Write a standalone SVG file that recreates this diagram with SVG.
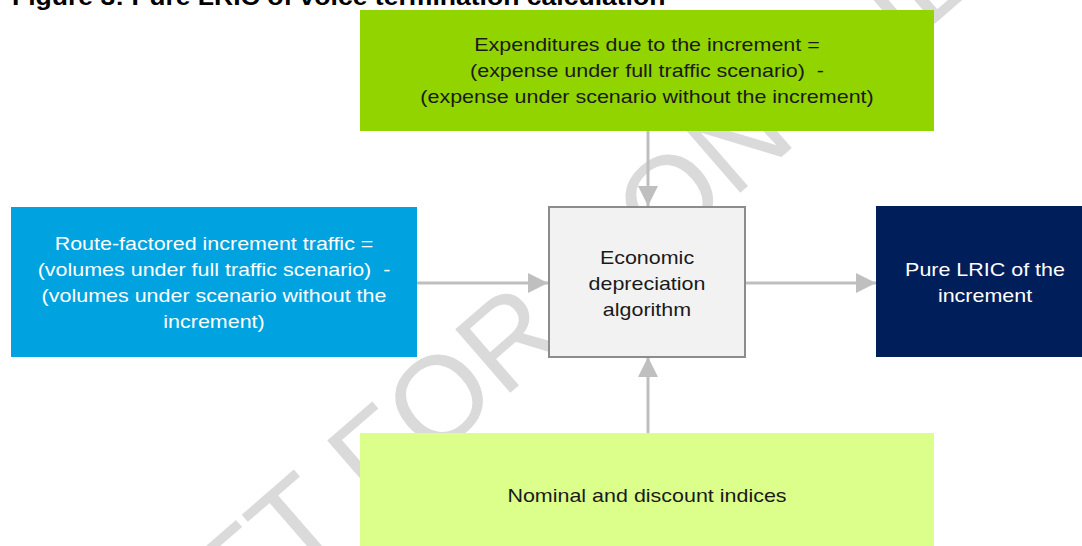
<svg xmlns="http://www.w3.org/2000/svg" width="1082" height="546" viewBox="0 0 1082 546">
<defs>
<style>
.t{font-family:"Liberation Sans",Arial,sans-serif;font-size:19px;text-anchor:middle;white-space:pre}
.dark{fill:#1a1a1a}
.light{fill:#ffffff}
.conn{stroke:#bfbfbf;stroke-width:3;fill:none}
.wm{font-family:"Liberation Sans",Arial,sans-serif;font-size:122px;fill:#dadada}
</style>
<marker id="ah" viewBox="0 0 20 20" refX="20" refY="10" markerWidth="20" markerHeight="20" markerUnits="userSpaceOnUse" orient="auto">
<path d="M0,0 L20,10 L0,20 z" fill="#bfbfbf"/>
</marker>
</defs>
<rect width="1082" height="546" fill="#ffffff"/>
<text transform="translate(12,5) scale(1.155,1)" x="0" y="0" font-family="Liberation Sans,Arial,sans-serif" font-weight="bold" font-size="23" fill="#000">Figure 3: Pure LRIC of voice termination calculation</text>
<text class="wm" transform="translate(44,798) rotate(-41)" x="0" y="0">DRAFT FOR CONSULTATION</text>
<g id="connectors">
<line class="conn" x1="648" y1="131" x2="648" y2="206" marker-end="url(#ah)"/>
<line class="conn" x1="417" y1="283" x2="548" y2="283" marker-end="url(#ah)"/>
<line class="conn" x1="746" y1="283" x2="876" y2="283" marker-end="url(#ah)"/>
<line class="conn" x1="648" y1="433" x2="648" y2="357" marker-end="url(#ah)"/>
</g>
<g id="expenditures">
<rect x="360" y="10" width="574" height="121" fill="#92d400"/>
<g transform="translate(647,0) scale(1.13,1)">
<text class="t dark" x="0" y="51">Expenditures due to the increment =</text>
<text class="t dark" x="0" y="77">(expense under full traffic scenario)  -</text>
<text class="t dark" x="0" y="103">(expense under scenario without the increment)</text>
</g>
</g>
<g id="traffic">
<rect x="11" y="207" width="406" height="150" fill="#00a3e0"/>
<g transform="translate(214,0) scale(1.13,1)">
<text class="t light" x="0" y="250">Route-factored increment traffic =</text>
<text class="t light" x="0" y="276">(volumes under full traffic scenario)  -</text>
<text class="t light" x="0" y="302">(volumes under scenario without the</text>
<text class="t light" x="0" y="328">increment)</text>
</g>
</g>
<g id="algorithm">
<rect x="549" y="207" width="196" height="150" fill="#f2f2f2" stroke="#8c8c8c" stroke-width="2"/>
<g transform="translate(647,0) scale(1.13,1)">
<text class="t dark" x="0" y="264">Economic</text>
<text class="t dark" x="0" y="290">depreciation</text>
<text class="t dark" x="0" y="316">algorithm</text>
</g>
</g>
<g id="lric">
<rect x="876" y="206" width="206" height="151" fill="#001e5a"/>
<g transform="translate(985,0) scale(1.13,1)">
<text class="t light" x="0" y="276">Pure LRIC of the</text>
<text class="t light" x="0" y="302">increment</text>
</g>
</g>
<g id="indices">
<rect x="360" y="433" width="574" height="113" fill="#dbff8a"/>
<g transform="translate(647,0) scale(1.13,1)">
<text class="t dark" x="0" y="502">Nominal and discount indices</text>
</g>
</g>
</svg>
